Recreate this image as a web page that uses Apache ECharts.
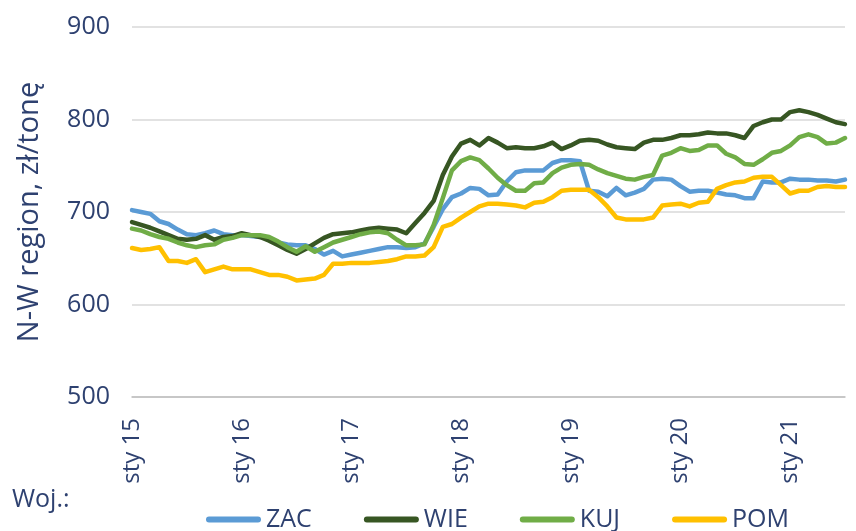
<!DOCTYPE html>
<html>
<head>
<meta charset="utf-8">
<title>N-W region</title>
<script src="https://cdn.jsdelivr.net/npm/echarts/dist/echarts.min.js"></script>
<style>
  html, body { margin: 0; padding: 0; background: #fff; }
  #main { width: 856px; height: 531px; }
</style>
</head>
<body>
<div id="main"></div>
<script>
// miesiace od sty 15 do lip 21
const monthNames = ['sty', 'lut', 'mar', 'kwi', 'maj', 'cze', 'lip', 'sie', 'wrz', 'paź', 'lis', 'gru']
const years = ['15', '16', '17', '18', '19', '20', '21']
const pointCount = 79

const zac = [
  702, 700, 698, 690, 687, 681, 676, 675, 677, 680, 676, 675,
  675, 674, 673, 672, 667, 665, 664, 664, 660, 654, 658, 652,
  654, 656, 658, 660, 662, 662, 661, 662, 666, 684, 703, 716,
  720, 726, 725, 718, 719, 733, 743, 745, 745, 745, 753, 756,
  756, 755, 723, 722, 717, 726, 718, 721, 725, 735, 736, 735,
  728, 722, 723, 723, 721, 719, 718, 715, 715, 733, 732, 732,
  736, 735, 735, 734, 734, 733, 735
]
const wie = [
  689, 686, 683, 679, 675, 671, 670, 671, 675, 670, 673, 674,
  677, 675, 673, 669, 664, 659, 655, 660, 666, 672, 676, 677,
  678, 680, 682, 683, 682, 681, 677, 688, 699, 712, 740, 760,
  774, 778, 772, 780, 775, 769, 770, 769, 769, 771, 775, 768,
  772, 777, 778, 777, 773, 770, 769, 768, 775, 778, 778, 780,
  783, 783, 784, 786, 785, 785, 783, 780, 793, 797, 800, 800,
  808, 810, 808, 805, 801, 797, 795
]
const kuj = [
  682, 680, 676, 673, 671, 667, 664, 662, 664, 665, 670, 672,
  675, 675, 675, 673, 668, 662, 657, 663, 657, 662, 667, 670,
  673, 676, 678, 679, 677, 670, 664, 664, 665, 686, 715, 745,
  755, 759, 756, 747, 737, 729, 723, 723, 731, 732, 742, 748,
  751, 752, 751, 746, 742, 739, 736, 735, 738, 740, 761, 764,
  769, 766, 767, 772, 772, 763, 759, 752, 751, 757, 764, 766,
  772, 781, 784, 781, 774, 775, 780
]
const pom = [
  661, 659, 660, 662, 647, 647, 645, 649, 635, 638, 641, 638,
  638, 638, 635, 632, 632, 630, 626, 627, 628, 632, 644, 644,
  645, 645, 645, 646, 647, 649, 652, 652, 653, 662, 684, 687,
  694, 700, 706, 709, 709, 708, 707, 705, 710, 711, 716, 723,
  724, 724, 724, 716, 706, 694, 692, 692, 692, 694, 707, 708,
  709, 706, 710, 711, 725, 729, 732, 733, 737, 738, 738, 729,
  720, 723, 723, 727, 728, 727, 727
]

const categories = []
for (let i = 0; i < pointCount; i++) {
  categories.push(monthNames[i % 12] + ' ' + years[Math.floor(i / 12)])
}

const navy = '#2E4170'
const font = 'Open Sans'
const pill = 'path://M3,0 H52 A3,3 0 0 1 52,6 H3 A3,3 0 0 1 3,0 Z'

function line (name, data, color) {
  return {
    name: name,
    type: 'line',
    data: data,
    symbol: 'none',
    color: color,
    lineStyle: { color: color, width: 4.5, cap: 'round', join: 'round' }
  }
}

const chart = echarts.init(document.getElementById('main'))
chart.setOption({
  animation: false,
  textStyle: { fontFamily: font },
  grid: { left: 132, right: 11, top: 27, bottom: 134 },
  legend: {
    left: 201,
    top: 502,
    icon: pill,
    itemWidth: 55,
    itemHeight: 6,
    itemGap: 52,
    textStyle: { color: navy, fontSize: 25, fontFamily: font },
    data: ['ZAC', 'WIE', 'KUJ', 'POM']
  },
  graphic: [{
    type: 'text',
    left: 12,
    top: 487,
    style: { text: 'Woj.:', fill: navy, fontSize: 25, fontFamily: font }
  }],
  xAxis: {
    type: 'category',
    data: categories,
    boundaryGap: false,
    axisLine: { lineStyle: { color: '#BFBFBF', width: 1.5 } },
    axisTick: { show: false },
    axisLabel: {
      rotate: 90,
      margin: 21,
      padding: [12, 0, 0, 0],
      color: navy,
      fontSize: 24,
      fontFamily: font,
      interval: function (idx) { return idx % 12 === 0 }
    }
  },
  yAxis: {
    type: 'value',
    min: 500,
    max: 900,
    interval: 100,
    name: 'N-W region, zł/tonę',
    nameLocation: 'middle',
    nameGap: 88,
    nameTextStyle: { color: navy, fontSize: 29, fontFamily: font },
    axisLine: { show: false },
    axisTick: { show: false },
    axisLabel: { color: navy, fontSize: 25, fontFamily: font, margin: 22 },
    splitLine: { lineStyle: { color: '#D9D9D9', width: 1.5 } }
  },
  series: [
    line('ZAC', zac, '#5B9BD5'),
    line('WIE', wie, '#375623'),
    line('KUJ', kuj, '#70AD47'),
    line('POM', pom, '#FFC000')
  ]
})
</script>
</body>
</html>
